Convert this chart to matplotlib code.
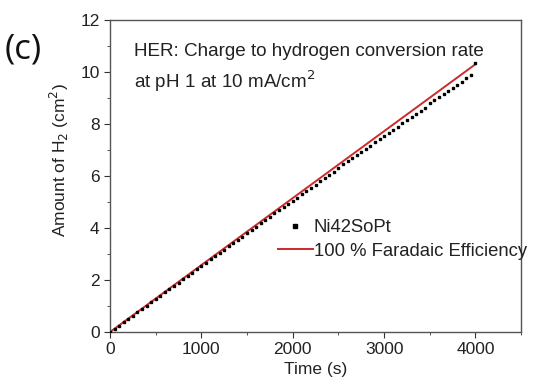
import matplotlib
matplotlib.use("Agg")
import matplotlib.pyplot as plt
from matplotlib.ticker import MultipleLocator

plt.rcParams['font.family'] = ['Liberation Sans', 'DejaVu Sans']

# measured points, 50 s steps
time_s = [0, 50, 100, 150, 200, 250, 300, 350, 400, 450,
          500, 550, 600, 650, 700, 750, 800, 850, 900, 950,
          1000, 1050, 1100, 1150, 1200, 1250, 1300, 1350, 1400, 1450,
          1500, 1550, 1600, 1650, 1700, 1750, 1800, 1850, 1900, 1950,
          2000, 2050, 2100, 2150, 2200, 2250, 2300, 2350, 2400, 2450,
          2500, 2550, 2600, 2650, 2700, 2750, 2800, 2850, 2900, 2950,
          3000, 3050, 3100, 3150, 3200, 3250, 3300, 3350, 3400, 3450,
          3500, 3550, 3600, 3650, 3700, 3750, 3800, 3850, 3900, 3950,
          4000]
h2_amount = [0.00, 0.12, 0.25, 0.37, 0.50, 0.63, 0.76, 0.88, 1.01, 1.14,
             1.27, 1.39, 1.52, 1.65, 1.77, 1.90, 2.03, 2.15, 2.28, 2.41,
             2.53, 2.66, 2.79, 2.91, 3.04, 3.17, 3.29, 3.42, 3.55, 3.67,
             3.80, 3.93, 4.05, 4.18, 4.30, 4.43, 4.56, 4.68, 4.80, 4.93,
             5.05, 5.17, 5.30, 5.42, 5.54, 5.67, 5.79, 5.91, 6.04, 6.16,
             6.29, 6.45, 6.56, 6.68, 6.80, 6.92, 7.04, 7.17, 7.29, 7.41,
             7.54, 7.66, 7.78, 7.90, 8.02, 8.14, 8.26, 8.38, 8.51, 8.63,
             8.80, 8.91, 9.03, 9.15, 9.27, 9.39, 9.51, 9.63, 9.76, 9.90,
             10.35]

# theoretical line (100 % FE)
fe_time = [0, 4000]
fe_amount = [0.0, 10.3]

fig = plt.figure(figsize=(5.34, 3.92), dpi=100)
ax = fig.add_axes([0.206, 0.153, 0.77, 0.796])

ax.plot(time_s, h2_amount, 's', color='k', markersize=1.6, label='Ni42SoPt', zorder=3)
ax.plot(fe_time, fe_amount, '-', color='#cc2a2c', lw=1.4, label='100 % Faradaic Efficiency', zorder=2)

ax.set_xlim(0, 4500)
ax.set_ylim(0, 12)
ax.xaxis.set_major_locator(MultipleLocator(1000))
ax.xaxis.set_minor_locator(MultipleLocator(500))
ax.yaxis.set_major_locator(MultipleLocator(2))
ax.yaxis.set_minor_locator(MultipleLocator(1))
ax.tick_params(which='both', direction='out', labelsize=12.5, colors='#333333', top=False, right=False)
ax.tick_params(which='major', length=4, labelcolor='#222222')
ax.tick_params(which='minor', length=2.5)
for s in ax.spines.values():
    s.set_color('#555555')
    s.set_linewidth(1.0)

ax.set_xlabel('Time (s)', fontsize=12.5, color='#222222', labelpad=3)
ax.set_ylabel(r'Amount of H$_2$ (cm$^2$)', fontsize=12.5, color='#222222')
ax.yaxis.set_label_coords(-0.095, 0.55)

ax.text(0.058, 0.925, 'HER: Charge to hydrogen conversion rate\nat pH 1 at 10 mA/cm$^2$',
        transform=ax.transAxes, fontsize=13.6, color='#222222', va='top', linespacing=1.42)

leg = ax.legend(loc='upper left', bbox_to_anchor=(0.39, 0.385), frameon=False, fontsize=13.3,
                handlelength=1.9, handletextpad=0.05, labelspacing=0.35, borderaxespad=0,
                markerscale=1.4)
for t in leg.get_texts():
    t.set_color('#222222')

fig.text(0.008, 0.918, '(c)', fontsize=25, color='#111111', va='top',
         family=['Open Sans', 'DejaVu Sans'])

fig.savefig('out.png', dpi=100)
